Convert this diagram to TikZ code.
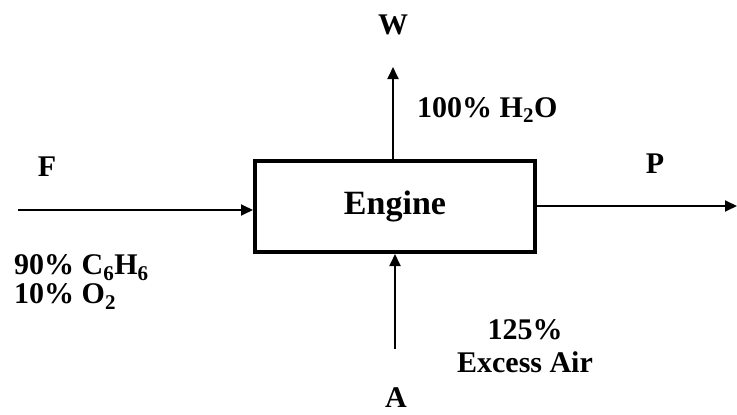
\documentclass[tikz,border=0pt]{standalone}
\usepackage{fontspec}
\setmainfont{Liberation Serif}
\usetikzlibrary{arrows.meta,positioning}

\begin{document}
\begin{tikzpicture}[x=1pt, y=-1pt,
  >={Triangle[length=12pt,width=11pt]},
  unit/.style={draw, line width=4pt, minimum width=280pt, minimum height=91pt, inner sep=0pt, font=\fontsize{34}{36}\selectfont\bfseries},
  stream/.style={->, line width=1.8pt},
  lab/.style={inner sep=0pt, font=\fontsize{30}{29}\selectfont\bfseries}]
\useasboundingbox (0,0) rectangle (737,415);
\node[unit] (E) at (395,206.5) {Engine};
\coordinate (Fin) at (18,210);
\coordinate (Pout) at (737,206);
\coordinate (Wout) at (393,67);
\coordinate (Ain) at (395,349);
\draw[stream] (Fin) -- (Fin -| E.west);
\draw[stream] (Pout -| E.east) -- (Pout);
\draw[stream] (Wout |- E.north) -- (Wout);
\draw[stream] (Ain) -- (Ain |- E.south);
\node[lab] (W) at (393,25) {W};
\node[lab] (F) at (47,167) {F};
\node[lab] (P) at (655,164) {P};
\node[lab] (A) at (396,398) {A};
\node[lab, anchor=west] (Wc) at (417,110) {100\% H\textsubscript{2}O};
\node[lab, anchor=west, align=left] (Fc) at (14,282) {90\% C\textsubscript{6}H\textsubscript{6}\\10\% O\textsubscript{2}};
\node[lab, align=center, font=\fontsize{30}{33}\selectfont\bfseries] (Ac) at (525,346) {125\%\\Excess Air};
\end{tikzpicture}
\end{document}
